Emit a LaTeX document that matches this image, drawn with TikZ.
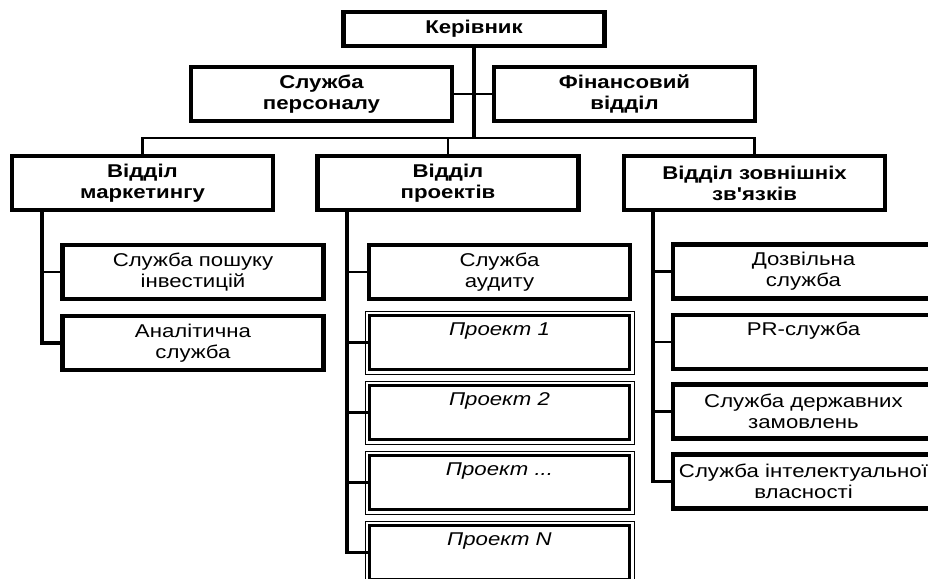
\documentclass[tikz,border=0pt]{standalone}
\usepackage{fontspec}
\setmainfont{Liberation Sans}[FakeStretch=1.2, Ligatures=TeXOff]
\begin{document}
\begin{tikzpicture}[x=1pt,y=-1pt,
  every node/.style={font=\fontsize{18.5}{21}\selectfont},
  box/.style={draw, line width=4.5pt, minimum width=261pt, minimum height=54pt, inner sep=0pt, align=center},
  topbox/.style={box, font=\fontsize{18.5}{21}\selectfont\bfseries},
  childbox/.style={box},
  projbox/.style={draw, line width=3pt, minimum width=260pt, minimum height=54pt, inner sep=0pt, align=center, font=\fontsize{18.5}{21}\selectfont\itshape},
  thinframe/.style={line width=0.8pt},
  bus/.style={line width=2.5pt},
  spine/.style={line width=3.5pt},
  tie/.style={line width=2.5pt},
]
\useasboundingbox (0,0) rectangle (928,578);
\clip (0,0) rectangle (928,578);
% top level
\node[topbox, minimum height=34pt] (kerivnyk) at (474,29) {Керівник};
\node[topbox] (personal) at (321.5,94) {Служба\\персоналу};
\node[topbox] (finance) at (624.5,94) {Фінансовий\\відділ};
\node[topbox] (marketing) at (142.5,183) {Відділ\\маркетингу};
\node[topbox] (projects) at (448,183) {Відділ\\проектів};
\node[topbox] (external) at (754.5,183) {Відділ зовнішніх\\зв'язків};
% children
\node[childbox] (invest) at (193,272) {Служба пошуку\\інвестицій};
\node[childbox] (analytic) at (193,343) {Аналітична\\служба};
\node[childbox] (audit) at (499.5,272) {Служба\\аудиту};
\node[projbox] (p1) at (499.5,342.5) {Проект 1\\\strut};
\node[projbox] (p2) at (499.5,412.5) {Проект 2\\\strut};
\node[projbox] (p3) at (499.5,482.5) {Проект ...\\\strut};
\node[projbox] (pN) at (499.5,552.5) {Проект N\\\strut};
\node[childbox] (permit) at (803.5,271.5) {Дозвільна\\служба};
\node[childbox] (pr) at (803.5,342) {PR-служба\\\strut};
\node[childbox] (gov) at (803.5,411.5) {Служба державних\\замовлень};
\node[childbox] (ip) at (803.5,481.5) {Служба інтелектуальної\\власності};
% outer thin frames of project boxes
\foreach \n in {p1,p2,p3,pN}
  \draw[thinframe] ([shift={(-3pt,-3pt)}]\n.south west) rectangle ([shift={(3pt,3pt)}]\n.north east);
% connectors top
\coordinate (bus) at (0,138);
\draw[spine] (kerivnyk.south) -- (kerivnyk.south |- bus);
\draw[bus] (personal.east) -- (finance.west);
\draw[bus] (marketing.north) |- (external.north |- bus) -- (external.north);
\draw[bus] (projects.north) -- (projects.north |- bus);
% spines
\coordinate (ls) at (42,0);
\coordinate (ms) at (347,0);
\coordinate (rs) at (653,0);
\draw[spine] (ls |- marketing.south) |- (analytic.west);
\draw[tie] (ls |- invest.west) -- (invest.west);
\draw[spine] (ms |- projects.south) |- (pN.west);
\foreach \n in {audit,p1,p2,p3} \draw[tie] (ms |- \n.west) -- (\n.west);
\draw[spine] (rs |- external.south) |- (ip.west);
\foreach \n in {permit,pr,gov} \draw[tie] (rs |- \n.west) -- (\n.west);
\end{tikzpicture}
\end{document}
